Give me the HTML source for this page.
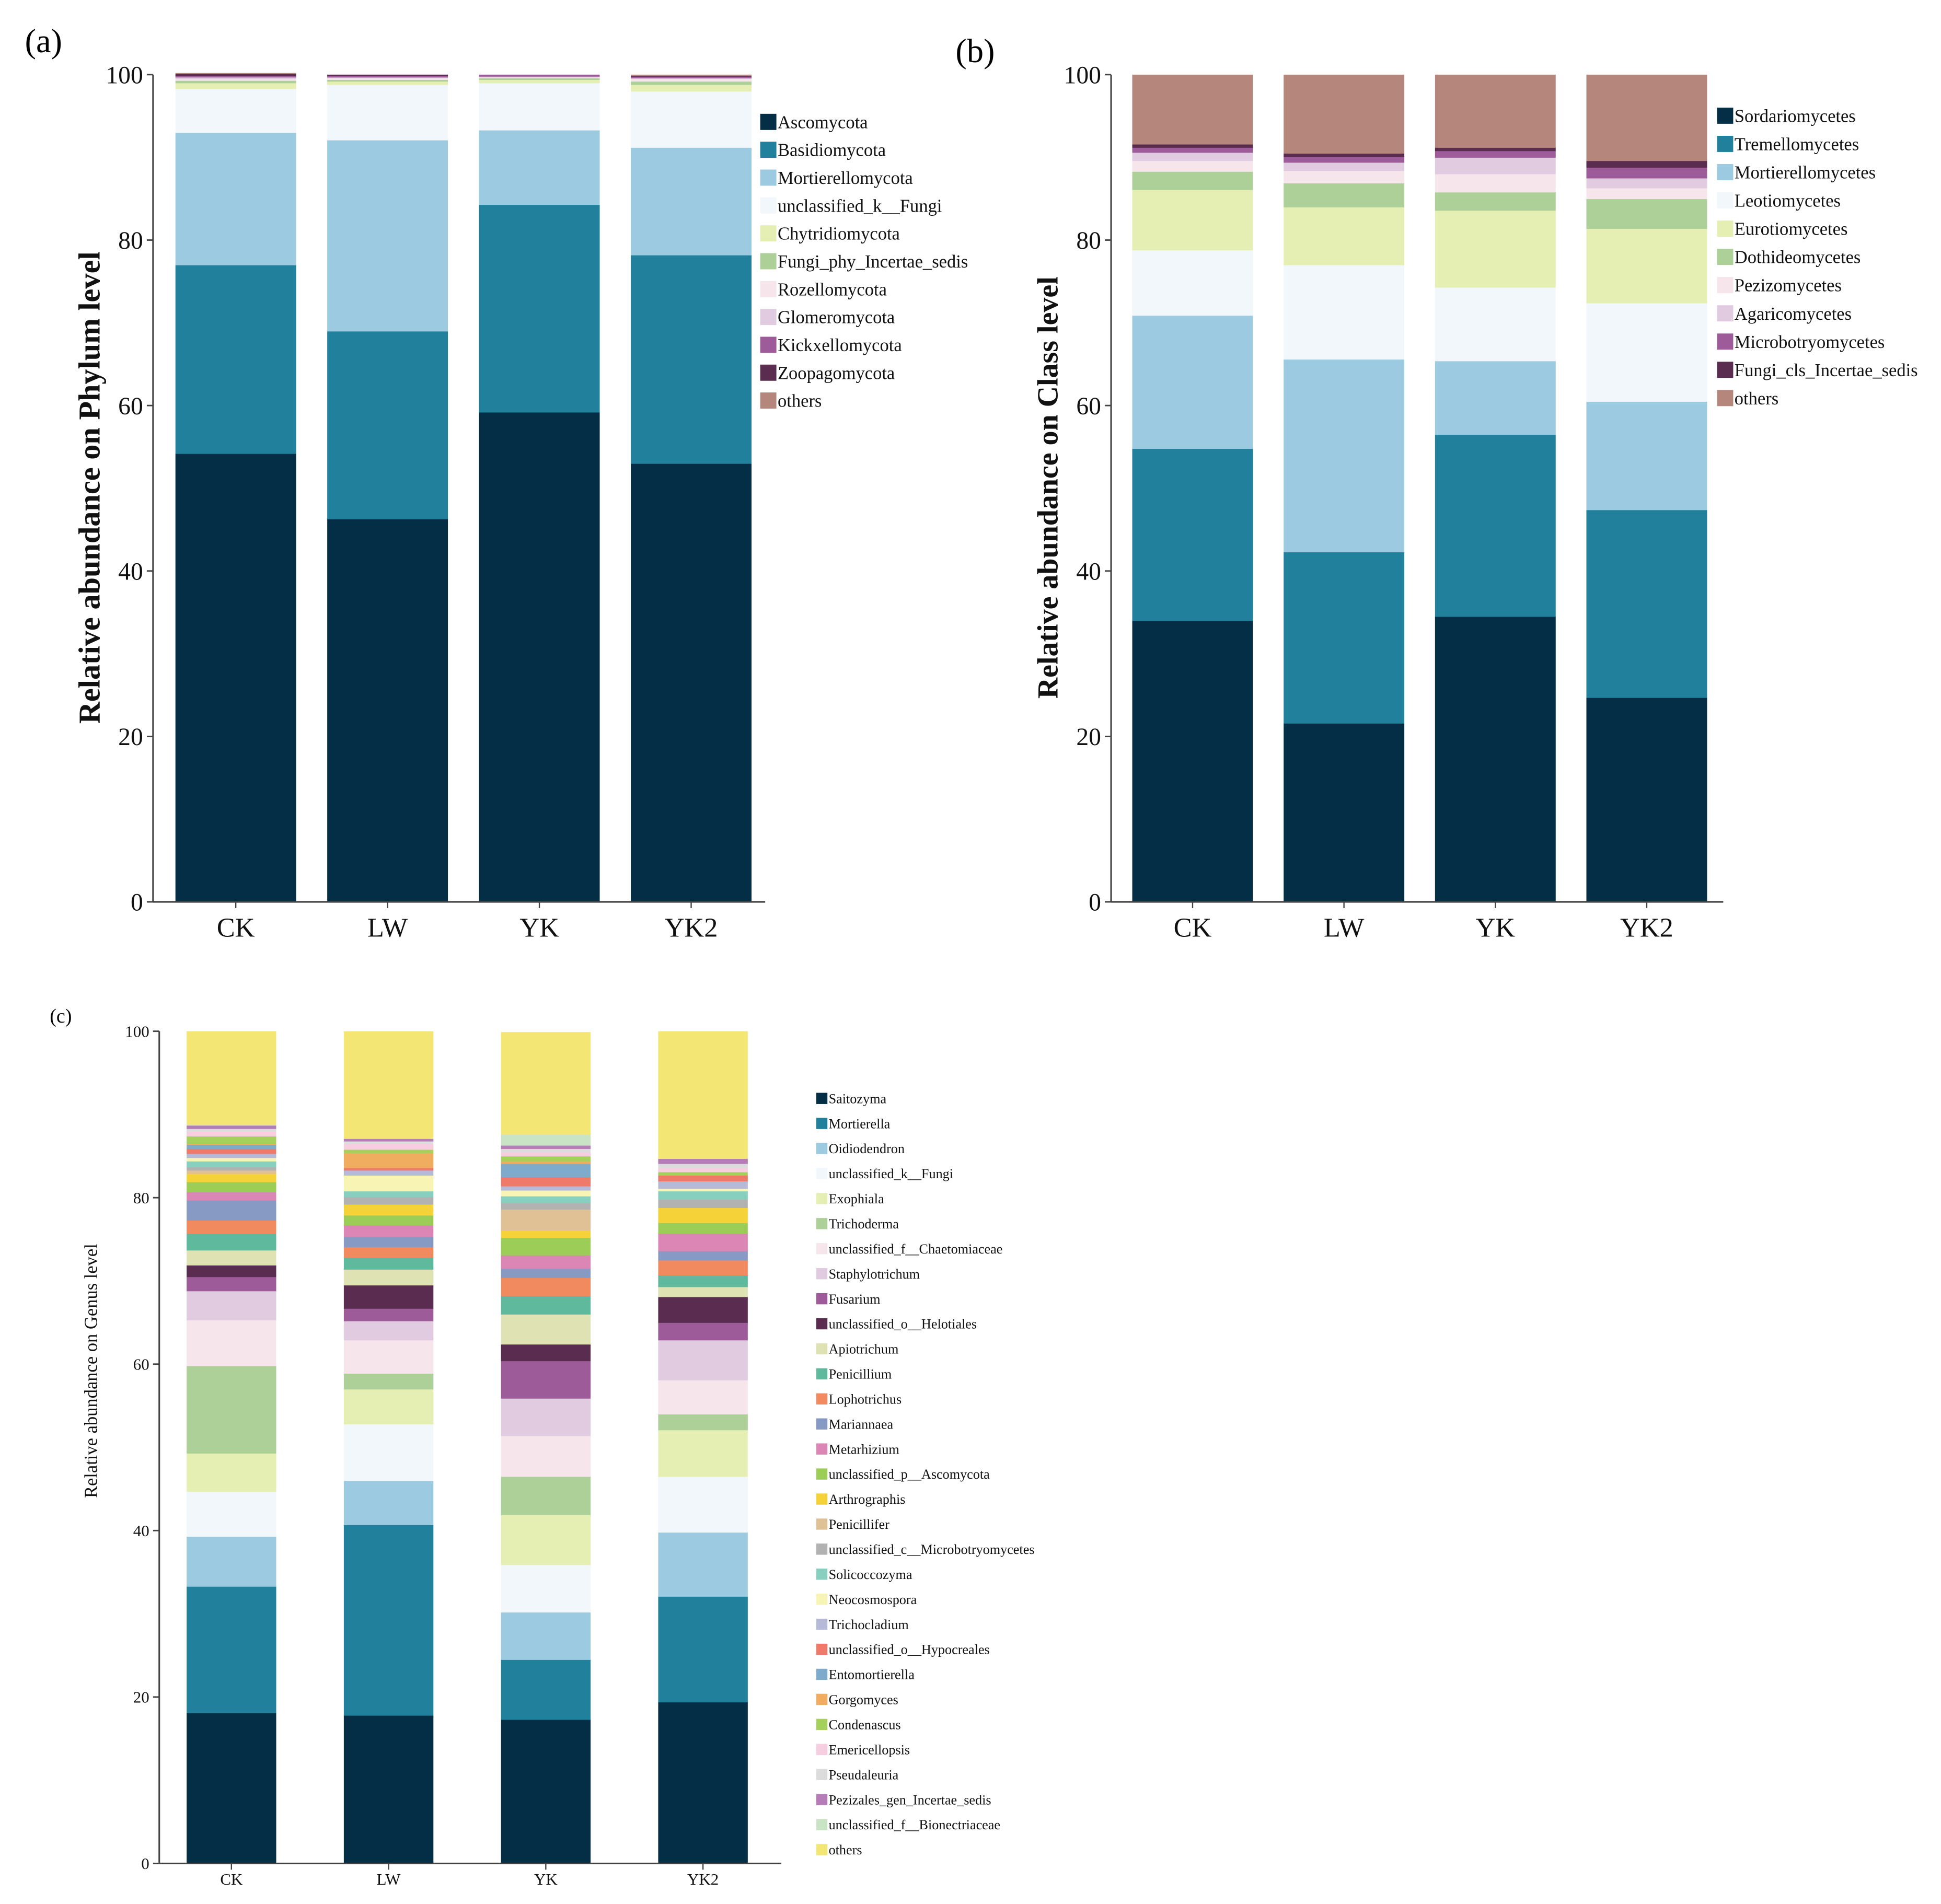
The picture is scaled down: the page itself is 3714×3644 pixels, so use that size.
<!DOCTYPE html>
<html><head><meta charset="utf-8"><style>
html,body{margin:0;padding:0;background:#fff}
svg{display:block;font-family:"Liberation Serif",serif}
</style></head><body>
<svg id="fig" width="3714" height="3644" viewBox="0 0 1560 1530.6" preserveAspectRatio="none" xmlns="http://www.w3.org/2000/svg">
<text x="20" y="42" font-size="27">(a)</text>
<text x="768" y="50" font-size="27">(b)</text>
<text x="40" y="822" font-size="16">(c)</text>
</svg>
<script>
const samples = ["CK","LW","YK","YK2"];
const phylumNames = ["Ascomycota","Basidiomycota","Mortierellomycota","unclassified_k__Fungi","Chytridiomycota","Fungi_phy_Incertae_sedis","Rozellomycota","Glomeromycota","Kickxellomycota","Zoopagomycota","others"];
const phylumColors = ["#032e45","#21809c","#9ccae0","#f1f7fa","#e6efb3","#adcf98","#f6e6ec","#e0cbe0","#9d5b99","#5a2c4f","#b5877c"];
const phylumCK  = [54.2,22.8,16.0,5.3,0.7,0.3,0.2,0.2,0.2,0.2,0.1];
const phylumLW  = [46.3,22.7,23.1,6.7,0.4,0.2,0.2,0.1,0.2,0.1,0.0];
const phylumYK  = [59.2,25.1,9.0,5.7,0.4,0.2,0.1,0.1,0.2,0.0,0.0];
const phylumYK2 = [53.0,25.2,13.0,6.8,0.8,0.4,0.3,0.1,0.2,0.1,0.1];

const classNames = ["Sordariomycetes","Tremellomycetes","Mortierellomycetes","Leotiomycetes","Eurotiomycetes","Dothideomycetes","Pezizomycetes","Agaricomycetes","Microbotryomycetes","Fungi_cls_Incertae_sedis","others"];
const classColors = phylumColors;
const classCK  = [34.0,20.8,16.1,7.9,7.3,2.2,1.3,1.0,0.6,0.4,8.4];
const classLW  = [21.6,20.7,23.3,11.4,7.0,2.9,1.5,1.0,0.7,0.4,9.5];
const classYK  = [34.5,22.0,8.9,8.9,9.3,2.2,2.2,2.0,0.8,0.4,8.8];
const classYK2 = [24.7,22.7,13.1,11.9,9.0,3.6,1.3,1.2,1.3,0.8,10.4];

const genusNames = ["Saitozyma","Mortierella","Oidiodendron","unclassified_k__Fungi","Exophiala","Trichoderma","unclassified_f__Chaetomiaceae","Staphylotrichum","Fusarium","unclassified_o__Helotiales","Apiotrichum","Penicillium","Lophotrichus","Mariannaea","Metarhizium","unclassified_p__Ascomycota","Arthrographis","Penicillifer","unclassified_c__Microbotryomycetes","Solicoccozyma","Neocosmospora","Trichocladium","unclassified_o__Hypocreales","Entomortierella","Gorgomyces","Condenascus","Emericellopsis","Pseudaleuria","Pezizales_gen_Incertae_sedis","unclassified_f__Bionectriaceae","others"];
const genusColors = ["#032e45","#21809c","#9ccae0","#f1f7fa","#e6efb3","#adcf98","#f6e6ec","#e0cbe0","#9d5b99","#5a2c4f","#dfe3b4","#5fb99c","#f28a5f","#869ac4","#dc86b5","#9ccd57","#f5d237","#e0c196","#b2b2b2","#87cfbf","#f7f4b4","#b7b9d9","#f07a6a","#7eaacc","#f0ad60","#a6d05c","#f7cde0","#dcdcdc","#b57cb8","#c9e3c5","#f4e675"];
const genusCK  = [18.1,15.2,6.0,5.4,4.6,10.5,5.5,3.5,1.7,1.4,1.8,2.0,1.6,2.4,1.0,1.2,1.0,0.4,0.4,0.7,0.4,0.5,0.6,0.5,0.1,0.9,0.6,0.3,0.4,0.1,11.2];
const genusLW  = [17.8,22.9,5.3,6.8,4.2,1.9,4.0,2.3,1.5,2.8,1.9,1.4,1.3,1.2,1.4,1.2,1.3,0.0,0.9,0.7,1.9,0.6,0.3,0.0,1.8,0.4,0.7,0.3,0.3,0.0,12.9];
const genusYK  = [17.3,7.2,5.7,5.7,6.0,4.6,4.9,4.5,4.5,2.0,3.6,2.2,2.2,1.1,1.6,2.1,0.9,2.5,0.8,0.8,0.7,0.5,1.1,1.6,0.3,0.6,0.5,0.4,0.4,1.3,12.3];
const genusYK2 = [19.4,12.7,7.7,6.7,5.6,1.9,4.1,4.8,2.1,3.1,1.2,1.4,1.8,1.1,2.1,1.3,1.8,0.0,1.0,1.0,0.3,0.9,0.7,0.0,0.0,0.4,0.5,0.5,0.6,0.0,15.3];
const yTicks = [0,20,40,60,80,100];

const NS = "http://www.w3.org/2000/svg";
const svg = document.getElementById('fig');
function el(tag, attrs, parent){
  const e = document.createElementNS(NS, tag);
  for (const k in attrs) e.setAttribute(k, attrs[k]);
  (parent||svg).appendChild(e);
  return e;
}

function panel(p){
  const g = el('g', {});
  
  
  const yScale = v => p.y0 - (p.y0 - p.y100) * v / 100;
  const step = (p.lastBarX - p.firstBarX) / (samples.length - 1);
  p.series.forEach((vals, si) => {
    const bx = p.firstBarX + si * step;
    let cum = 0;
    vals.forEach((v, ti) => {
      if (v <= 0) return;
      const r = el('rect', {x: bx, y: yScale(cum + v), width: p.barW, height: yScale(cum) - yScale(cum + v) + 0.3, fill: p.colors[ti]}, g);
      
      
      cum += v;
    });
    const t = el('text', {x: bx + p.barW / 2, y: p.y0 + p.xLabOff, 'font-size': p.xFs, 'text-anchor': 'middle', fill: '#111'}, g);
    t.textContent = samples[si];
    
    
    el('line', {x1: bx + p.barW/2, x2: bx + p.barW/2, y1: p.y0, y2: p.y0 + 5, stroke: '#444', 'stroke-width': 1}, g);
  });
  const ya = el('line', {x1: p.axX, x2: p.axX, y1: p.y0, y2: p.y100, stroke: '#444', 'stroke-width': 1.3}, g);
  
  
  const xa = el('line', {x1: p.axX, x2: p.axEnd, y1: p.y0, y2: p.y0, stroke: '#444', 'stroke-width': 1.3}, g);
  
  
  yTicks.forEach(tv => {
    const y = yScale(tv);
    el('line', {x1: p.axX - 5, x2: p.axX, y1: y, y2: y, stroke: '#444', 'stroke-width': 1.2}, g);
    const t = el('text', {x: p.axX - 8, y: y + p.yFs * 0.35, 'font-size': p.yFs, 'text-anchor': 'end', fill: '#111'}, g);
    t.textContent = tv;
    
    
  });
  const yc = p.ylY !== undefined ? p.ylY : (p.y0 + p.y100) / 2;
  const yl = el('text', {x: 0, y: 0, 'font-size': p.ylFs, 'font-weight': p.ylBold ? 'bold' : 'normal', 'text-anchor': 'middle', fill: '#111', transform: 'translate(' + p.ylX + ',' + yc + ') rotate(-90)'}, g);
  yl.textContent = p.ylabel;
  
  
  p.names.forEach((n, i) => {
    const y = p.legY + i * p.legStep;
    const lg = el('g', {}, g);
    
    
    el('rect', {x: p.legX, y: y - p.sw/2, width: p.sw, height: p.sw, fill: p.colors[i]}, lg);
    const t = el('text', {x: p.legX + p.sw + 1, y: y + p.legFs * 0.35, 'font-size': p.legFs, fill: '#111'}, lg);
    t.textContent = n;
  });
}

panel({id:'phylum', names: phylumNames, colors: phylumColors, series:[phylumCK,phylumLW,phylumYK,phylumYK2],
  y0:725, y100:60, firstBarX:141, lastBarX:507, barW:97, axX:123, axEnd:615, xLabOff:28, xFs:22, yFs:20,
  ylFs:24.5, ylBold:true, ylX:80, ylY:392, ylabel:'Relative abundance on Phylum level', legX:611, legY:98, legStep:22.4, sw:13, legFs:14.5});
panel({id:'class', names: classNames, colors: classColors, series:[classCK,classLW,classYK,classYK2],
  y0:725, y100:60, firstBarX:910, lastBarX:1275, barW:97, axX:893, axEnd:1385, xLabOff:28, xFs:22, yFs:20,
  ylFs:23.5, ylBold:true, ylX:850, ylY:392, ylabel:'Relative abundance on Class level', legX:1380, legY:93, legStep:22.7, sw:13, legFs:14.5});
panel({id:'genus', names: genusNames, colors: genusColors, series:[genusCK,genusLW,genusYK,genusYK2],
  y0:1498, y100:829, firstBarX:150, lastBarX:529, barW:72, axX:128, axEnd:628, xLabOff:17, xFs:13, yFs:13,
  ylFs:14.5, ylBold:false, ylX:78, ylY:1102, ylabel:'Relative abundance on Genus level', legX:656, legY:883, legStep:20.13, sw:9, legFs:11});
</script>
</body></html>
